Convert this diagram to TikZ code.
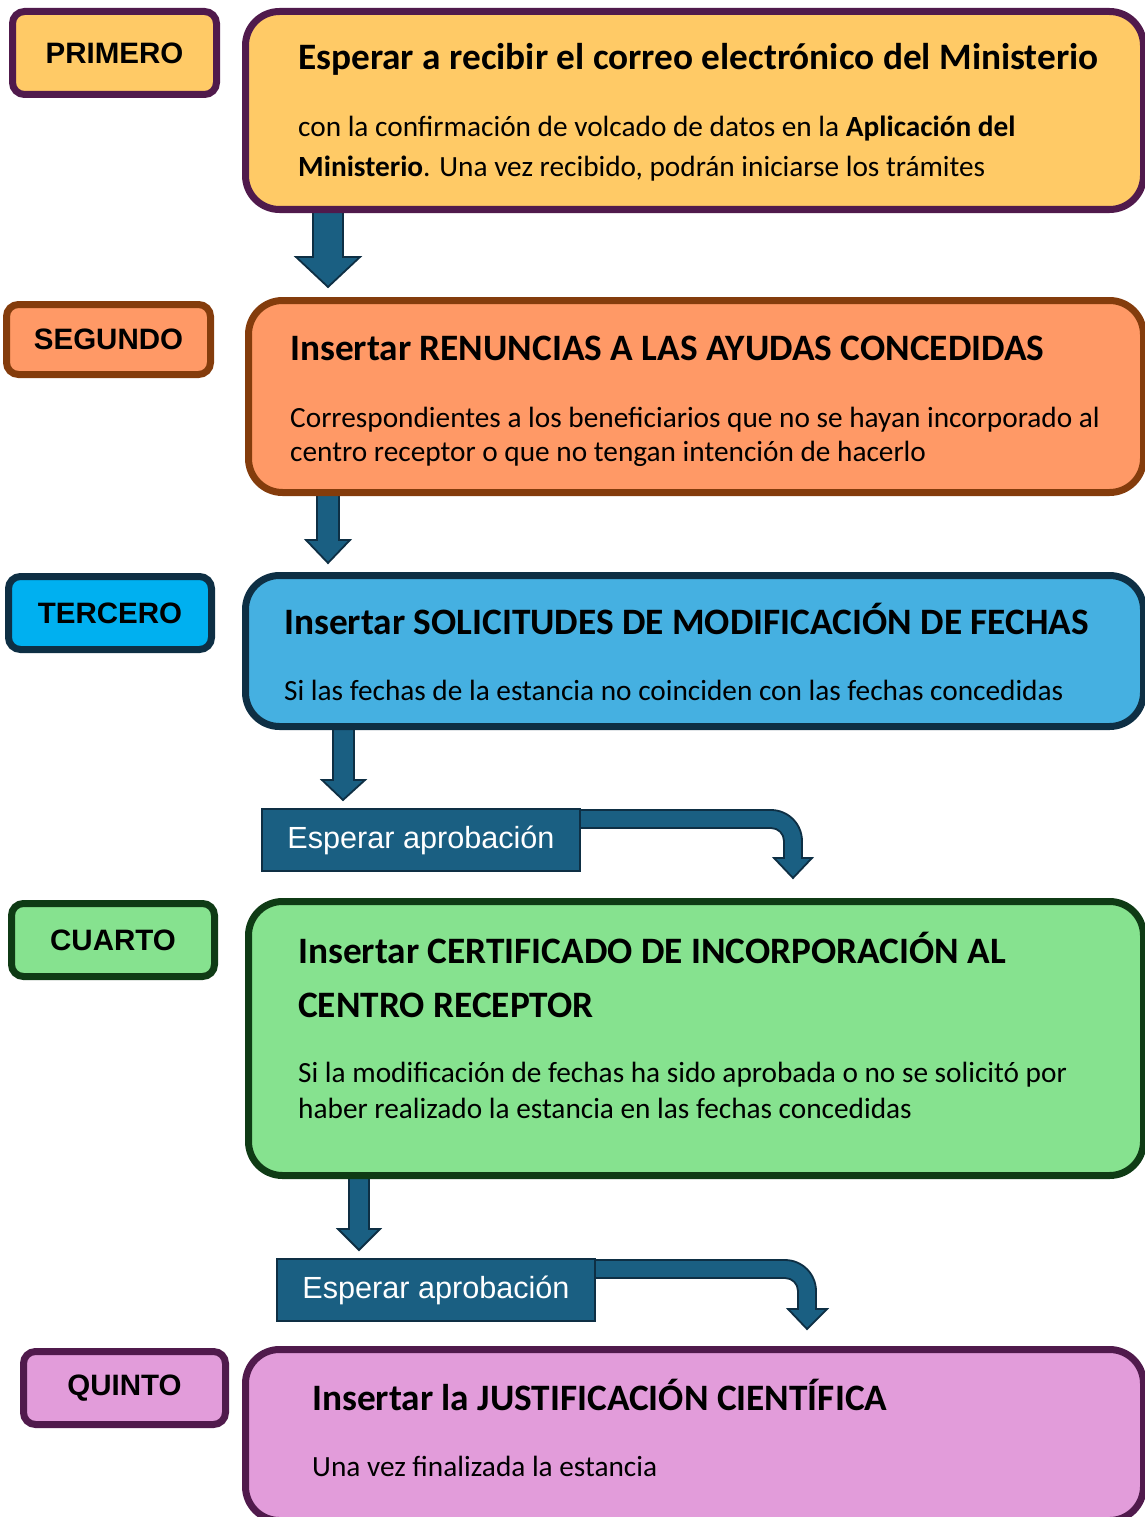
\documentclass[tikz,border=0pt]{standalone}
\usepackage{fontspec}
\setmainfont{Carlito}
\newfontfamily\lblfont{Liberation Sans}
\begin{document}
\begin{tikzpicture}[x=1pt,y=-1pt,
  lbl/.style={draw, line width=7pt, rounded corners=12pt, inner sep=0pt,
     font=\lblfont\bfseries\fontsize{29.5}{31}\selectfont},
  mainbox/.style={draw, line width=7pt, rounded corners=34pt, inner sep=0pt},
  ttl/.style={anchor=base west, inner sep=0pt, font=\bfseries\fontsize{37.3}{42}\selectfont},
  bdy/.style={anchor=base west, inner sep=0pt, font=\fontsize{29.3}{34}\selectfont},
  waitbox/.style={draw=navy, line width=2pt, fill=arrowblue, inner sep=0pt,
     minimum width=318pt, minimum height=62pt, text=white,
     font=\lblfont\fontsize{30.6}{33}\selectfont},
  blockarrow/.style={draw=navy, line width=1.8pt, fill=arrowblue, line join=miter}
]
\definecolor{ylw}{HTML}{FFCA66}
\definecolor{prp}{HTML}{501A4C}
\definecolor{org}{HTML}{FF9966}
\definecolor{brn}{HTML}{843C0C}
\definecolor{cyanl}{HTML}{00B0F0}
\definecolor{bluem}{HTML}{45B0E1}
\definecolor{navy}{HTML}{0E2F44}
\definecolor{grn}{HTML}{86E28F}
\definecolor{dgrn}{HTML}{0F3B15}
\definecolor{pnk}{HTML}{E29CDA}
\definecolor{arrowblue}{HTML}{1A5F82}

\useasboundingbox (0,0) rectangle (1145,1517);
\clip (0,0) rectangle (1145,1517);

% block arrows (drawn first, under the boxes)
\draw[blockarrow] (313,205) -- (343,205) -- (343,257) -- (360,257) -- (328,287) -- (296,257) -- (313,257) -- cycle;
\draw[blockarrow] (317,488) -- (339,488) -- (339,540) -- (350,540) -- (328,563) -- (306,540) -- (317,540) -- cycle;
\draw[blockarrow] (333,724) -- (354,724) -- (354,780) -- (365,780) -- (343,800) -- (322,780) -- (333,780) -- cycle;
\draw[blockarrow] (349,1174) -- (369,1174) -- (369,1229) -- (380,1229) -- (359,1250) -- (338,1229) -- (349,1229) -- cycle;

% bent arrows
\draw[blockarrow] (570,810) -- (771,810) .. controls (788.1,810) and (802,823.9) .. (802,841)
  -- (802,858) -- (812,858) -- (793,878) -- (774,858) -- (784,858) -- (784,841)
  .. controls (784,833.8) and (778.2,828) .. (771,828) -- (570,828) -- cycle;
\draw[blockarrow] (585,1260) -- (785,1260) .. controls (802.1,1260) and (816,1273.9) .. (816,1291)
  -- (816,1309) -- (827,1309) -- (807,1329) -- (788,1309) -- (798,1309) -- (798,1291)
  .. controls (798,1283.8) and (792.2,1278) .. (785,1278) -- (585,1278) -- cycle;

% labels
\node[lbl, fill=ylw, draw=prp, minimum width=204pt, minimum height=83pt] (l1) at (114.5,53) {PRIMERO};
\node[lbl, fill=org, draw=brn, minimum width=204pt, minimum height=70pt] (l2) at (108.5,339.5) {SEGUNDO};
\node[lbl, fill=cyanl, draw=navy, minimum width=203pt, minimum height=73pt] (l3) at (110,613) {TERCERO};
\node[lbl, fill=grn, draw=dgrn, minimum width=203pt, minimum height=73pt] (l4) at (113,940) {CUARTO};
\node[lbl, fill=pnk, draw=prp, minimum width=202pt, minimum height=73pt] (l5) at (124.5,1388) {QUINTO};

% main boxes
\node[mainbox, fill=ylw, draw=prp, minimum width=898pt, minimum height=198pt] (m1) at (694.5,110.5) {};
\node[mainbox, fill=org, draw=brn, minimum width=895pt, minimum height=192pt] (m2) at (696,396.5) {};
\node[mainbox, fill=bluem, draw=navy, minimum width=898pt, minimum height=151pt] (m3) at (694.5,651) {};
\node[mainbox, fill=grn, draw=dgrn, minimum width=895pt, minimum height=274pt] (m4) at (696,1038.5) {};
\node[mainbox, fill=pnk, draw=prp, minimum width=898pt, minimum height=171pt] (m5) at (694.5,1435) {};

% wait boxes
\node[waitbox] (w1) at (421,840) {Esperar aprobación};
\node[waitbox] (w2) at (436,1290) {Esperar aprobación};

% texts
\node[ttl] (t1) at (298,70) {Esperar a recibir el correo electrónico del Ministerio};
\node[bdy] (b1a) at (298,137) {con la confirmación de volcado de datos en la \textbf{Aplicación del}};
\node[bdy] (b1b) at (298,177) {\textbf{Ministerio}. Una vez recibido, podrán iniciarse los trámites};

\node[ttl] (t2) at (290,360) {Insertar RENUNCIAS A LAS AYUDAS CONCEDIDAS};
\node[bdy] (b2a) at (290,427) {Correspondientes a los beneficiarios que no se hayan incorporado al};
\node[bdy] (b2b) at (290,461) {centro receptor o que no tengan intención de hacerlo};

\node[ttl] (t3) at (284,634) {Insertar SOLICITUDES DE MODIFICACIÓN DE FECHAS};
\node[bdy] (b3a) at (284,700) {Si las fechas de la estancia no coinciden con las fechas concedidas};

\node[ttl] (t4a) at (298,963) {Insertar CERTIFICADO DE INCORPORACIÓN AL};
\node[ttl] (t4b) at (298,1017) {CENTRO RECEPTOR};
\node[bdy] (b4a) at (298,1082) {Si la modificación de fechas ha sido aprobada o no se solicitó por};
\node[bdy] (b4b) at (298,1118) {haber realizado la estancia en las fechas concedidas};

\node[ttl] (t5) at (312,1410) {Insertar la JUSTIFICACIÓN CIENTÍFICA};
\node[bdy] (b5a) at (312,1476) {Una vez finalizada la estancia};
\end{tikzpicture}
\end{document}
